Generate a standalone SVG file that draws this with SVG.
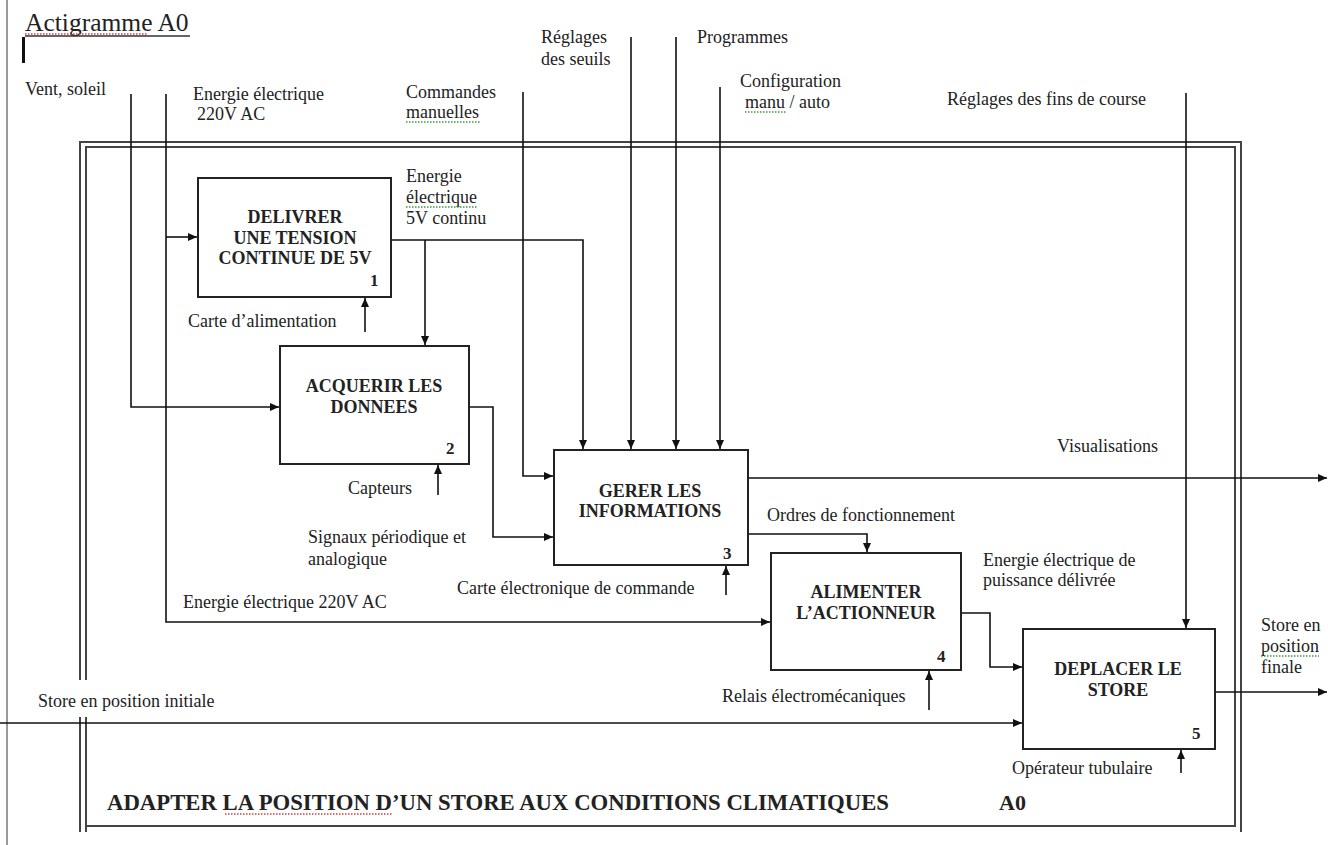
<svg xmlns="http://www.w3.org/2000/svg" width="1328" height="845" viewBox="0 0 1328 845">
<defs>
<marker id="arr" markerUnits="userSpaceOnUse" markerWidth="10" markerHeight="10" refX="9" refY="4" orient="auto">
<path d="M0,0 L9,4 L0,8 z" fill="#111"/>
</marker>
<style>
text{font-family:"Liberation Serif","Times New Roman",serif;fill:#222}
.lbl{font-size:18px}
.box{fill:#fff;stroke:#222;stroke-width:2}
.bt{font-size:18px;font-weight:bold;text-anchor:middle}
.num{font-size:17px;font-weight:bold}
.ln{fill:none;stroke:#111;stroke-width:1.6}
.fr{fill:none;stroke:#444;stroke-width:2}
.sq-r{stroke:#d04040;stroke-width:1.5;stroke-dasharray:1.5 1.5;fill:none}
.sq-g{stroke:#3a9a3a;stroke-width:1.5;stroke-dasharray:1.5 1.5;fill:none}
</style>
</defs>
<rect width="1328" height="845" fill="#fff"/>
<line x1="7" y1="0" x2="7" y2="845" stroke="#999" stroke-width="2"/>
<g id="header">
<text x="25" y="31" style="font-size:25.5px">Actigramme A0</text>
<line x1="25" y1="36" x2="190" y2="36" stroke="#333" stroke-width="1.5"/>
<line x1="25" y1="34" x2="148" y2="34" class="sq-r"/>
<rect x="22" y="37" width="3" height="26" fill="#111"/>
</g>
<g id="frame">
<path class="fr" d="M80,832 V142 H1241 V832"/>
<path class="fr" d="M86,832 V147 H1235 V826 H86"/>
<rect x="30" y="680" width="200" height="37" fill="#fff"/>
</g>
<g id="connectors">
<path class="ln" d="M131,94 V407 H279" marker-end="url(#arr)"/>
<path class="ln" d="M166,94 V622 H770" marker-end="url(#arr)"/>
<path class="ln" d="M166,237 H197" marker-end="url(#arr)"/>
<path class="ln" d="M523,92 V476 H553" marker-end="url(#arr)"/>
<path class="ln" d="M631,37 V449" marker-end="url(#arr)"/>
<path class="ln" d="M676,37 V449" marker-end="url(#arr)"/>
<path class="ln" d="M720,87 V449" marker-end="url(#arr)"/>
<path class="ln" d="M1186,93 V628" marker-end="url(#arr)"/>
<path class="ln" d="M391,240 H583 V449" marker-end="url(#arr)"/>
<path class="ln" d="M425,240 V345" marker-end="url(#arr)"/>
<path class="ln" d="M469,407 H493 V537 H553" marker-end="url(#arr)"/>
<path class="ln" d="M748,478 H1327" marker-end="url(#arr)"/>
<path class="ln" d="M748,534 H867 V552" marker-end="url(#arr)"/>
<path class="ln" d="M961,613 H990 V667 H1022" marker-end="url(#arr)"/>
<path class="ln" d="M0,723 H1022" marker-end="url(#arr)"/>
<path class="ln" d="M1215,692 H1327" marker-end="url(#arr)"/>
<path class="ln" d="M365,332 V298" marker-end="url(#arr)"/>
<path class="ln" d="M438,495 V465" marker-end="url(#arr)"/>
<path class="ln" d="M726,595 V566" marker-end="url(#arr)"/>
<path class="ln" d="M929,710 V671" marker-end="url(#arr)"/>
<path class="ln" d="M1181,773 V750" marker-end="url(#arr)"/>
</g>
<g id="labels">
<text class="lbl" x="25" y="95">Vent, soleil</text>
<text class="lbl" x="193" y="100">Energie électrique</text>
<text class="lbl" x="197" y="120">220V AC</text>
<text class="lbl" x="406" y="98">Commandes</text>
<text class="lbl" x="406" y="118">manuelles</text>
<line x1="406" y1="122" x2="480" y2="122" class="sq-g"/>
<text class="lbl" x="541" y="43">Réglages</text>
<text class="lbl" x="541" y="65">des seuils</text>
<text class="lbl" x="697" y="43">Programmes</text>
<text class="lbl" x="740" y="87">Configuration</text>
<text class="lbl" x="745" y="108">manu / auto</text>
<line x1="745" y1="112" x2="786" y2="112" class="sq-g"/>
<text class="lbl" x="947" y="105">Réglages des fins de course</text>
<text class="lbl" x="406" y="182">Energie</text>
<text class="lbl" x="406" y="203">électrique</text>
<line x1="406" y1="207" x2="477" y2="207" class="sq-g"/>
<text class="lbl" x="406" y="224">5V continu</text>
<text class="lbl" x="188" y="327">Carte d’alimentation</text>
<text class="lbl" x="348" y="494">Capteurs</text>
<text class="lbl" x="308" y="543">Signaux périodique et</text>
<text class="lbl" x="308" y="565">analogique</text>
<text class="lbl" x="183" y="608">Energie électrique 220V AC</text>
<text class="lbl" x="767" y="521">Ordres de fonctionnement</text>
<text class="lbl" x="457" y="594">Carte électronique de commande</text>
<text class="lbl" x="1057" y="452">Visualisations</text>
<text class="lbl" x="983" y="566">Energie électrique de</text>
<text class="lbl" x="983" y="586">puissance délivrée</text>
<text class="lbl" x="722" y="702">Relais électromécaniques</text>
<text class="lbl" x="38" y="707">Store en position initiale</text>
<text class="lbl" x="1261" y="631">Store en</text>
<text class="lbl" x="1261" y="652">position</text>
<line x1="1261" y1="656" x2="1319" y2="656" class="sq-g"/>
<text class="lbl" x="1261" y="673">finale</text>
<text class="lbl" x="1012" y="774">Opérateur tubulaire</text>
<text x="107" y="810" style="font-size:22.5px;font-weight:bold" textLength="782" lengthAdjust="spacingAndGlyphs">ADAPTER LA POSITION D’UN STORE AUX CONDITIONS CLIMATIQUES</text>
<line x1="225" y1="814" x2="392" y2="814" class="sq-r"/>
<text x="999" y="810" style="font-size:22px;font-weight:bold">A0</text>
</g>
<g id="node1">
<rect class="box" x="198" y="178" width="193" height="119"/>
<text class="bt" x="295" y="223">DELIVRER</text>
<text class="bt" x="295" y="244">UNE TENSION</text>
<text class="bt" x="295" y="264">CONTINUE DE 5V</text>
<text class="num" x="370" y="286">1</text>
</g>
<g id="node2">
<rect class="box" x="280" y="346" width="189" height="118"/>
<text class="bt" x="374" y="392">ACQUERIR LES</text>
<text class="bt" x="374" y="413">DONNEES</text>
<text class="num" x="446" y="454">2</text>
</g>
<g id="node3">
<rect class="box" x="554" y="450" width="194" height="115"/>
<text class="bt" x="650" y="497">GERER LES</text>
<text class="bt" x="650" y="517">INFORMATIONS</text>
<text class="num" x="723" y="559">3</text>
</g>
<g id="node4">
<rect class="box" x="771" y="553" width="190" height="117"/>
<text class="bt" x="866" y="598">ALIMENTER</text>
<text class="bt" x="866" y="619">L’ACTIONNEUR</text>
<text class="num" x="937" y="662">4</text>
</g>
<g id="node5">
<rect class="box" x="1023" y="629" width="192" height="120"/>
<text class="bt" x="1118" y="675">DEPLACER LE</text>
<text class="bt" x="1118" y="696">STORE</text>
<text class="num" x="1192" y="739">5</text>
</g>
</svg>
